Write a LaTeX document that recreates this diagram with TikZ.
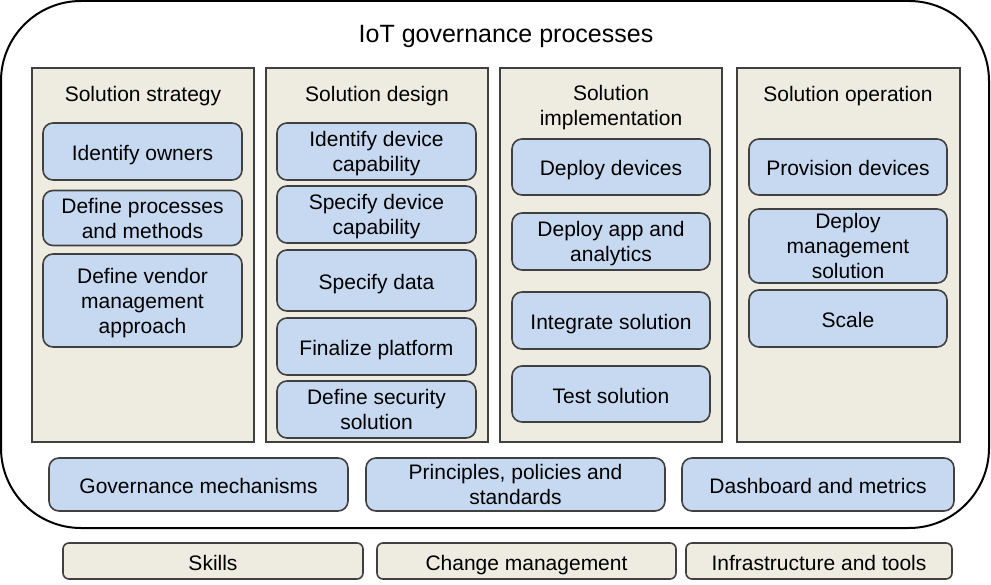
\documentclass[tikz,border=0pt]{standalone}
\usepackage{fontspec}
\setmainfont{Liberation Sans}
\definecolor{boxblue}{HTML}{C6D9F1}
\definecolor{colbeige}{HTML}{EEECE1}
\definecolor{edgegray}{HTML}{404040}
\tikzset{
  evenline/.style={text depth=0pt,execute at begin node={\rule{0pt}{18pt}}},
  column/.style={draw=edgegray,fill=colbeige,line width=1.6pt},
  task/.style={draw=edgegray,fill=boxblue,line width=1.6pt,rounded corners=10pt,
    align=center,inner sep=0pt,evenline},
  enabler/.style={draw=edgegray,fill=colbeige,line width=1.6pt,rounded corners=6pt,
    align=center,inner sep=0pt,evenline},
  coltitle/.style={align=center,inner sep=0pt,evenline}
}
\begin{document}
\begin{tikzpicture}[x=1pt,y=-1pt,font=\fontsize{21}{25}\selectfont]
\useasboundingbox (0,0) rectangle (991,585);
% outer frame
\draw[line width=2pt,rounded corners=80pt] (1,1) rectangle (989,528);
\node[coltitle,font=\fontsize{25}{30}\selectfont] (title) at (506,33.5) {IoT governance processes};
% columns
\draw[column] (32,68) rectangle (254,442);
\draw[column] (266,68) rectangle (488,442);
\draw[column] (500,68) rectangle (722,442);
\draw[column] (737,68) rectangle (960,442);
\node[coltitle] (strategy) at (143,92.5) {Solution strategy};
\node[coltitle] (design) at (377,92.5) {Solution design};
\node[coltitle] (implement) at (611,105.5) {Solution\\implementation};
\node[coltitle] (operation) at (848,92.5) {Solution operation};
% solution strategy
\node[task,minimum width=199,minimum height=57] (owners) at (142.5,151.5) {Identify owners};
\node[task,minimum width=199,minimum height=55] (processes) at (142.5,218) {Define processes\\and methods};
\node[task,minimum width=199,minimum height=93] (vendor) at (142.5,300.5) {Define vendor\\management\\approach};
% solution design
\node[task,minimum width=199,minimum height=57] (capability) at (376.5,151.5) {Identify device\\capability};
\node[task,minimum width=199,minimum height=57] (specify) at (376.5,214.5) {Specify device\\capability};
\node[task,minimum width=199,minimum height=61] (data) at (376.5,280.5) {Specify data};
\node[task,minimum width=199,minimum height=57] (platform) at (376.5,346.5) {Finalize platform};
\node[task,minimum width=199,minimum height=57] (security) at (376.5,409.5) {Define security\\solution};
% solution implementation
\node[task,minimum width=198,minimum height=56] (devices) at (611,167) {Deploy devices};
\node[task,minimum width=198,minimum height=57] (app) at (611,241.5) {Deploy app and\\analytics};
\node[task,minimum width=198,minimum height=57] (integrate) at (611,320.5) {Integrate solution};
\node[task,minimum width=198,minimum height=56] (test) at (611,394) {Test solution};
% solution operation
\node[task,minimum width=198,minimum height=56] (provision) at (848,167) {Provision devices};
\node[task,minimum width=198,minimum height=74] (management) at (848,246) {Deploy\\management\\solution};
\node[task,minimum width=198,minimum height=57] (scale) at (848,318.5) {Scale};
% governance row
\node[task,minimum width=299,minimum height=53] (mechanisms) at (198.5,484.5) {Governance mechanisms};
\node[task,minimum width=299,minimum height=53] (principles) at (515.5,484.5) {Principles, policies and\\standards};
\node[task,minimum width=272,minimum height=53] (dashboard) at (818,484.5) {Dashboard and metrics};
% enablers
\node[enabler,minimum width=300,minimum height=36] (skills) at (213,561) {Skills};
\node[enabler,minimum width=299,minimum height=36] (change) at (526.5,561) {Change management};
\node[enabler,minimum width=266,minimum height=36] (infra) at (819,561) {Infrastructure and tools};
\end{tikzpicture}
\end{document}
